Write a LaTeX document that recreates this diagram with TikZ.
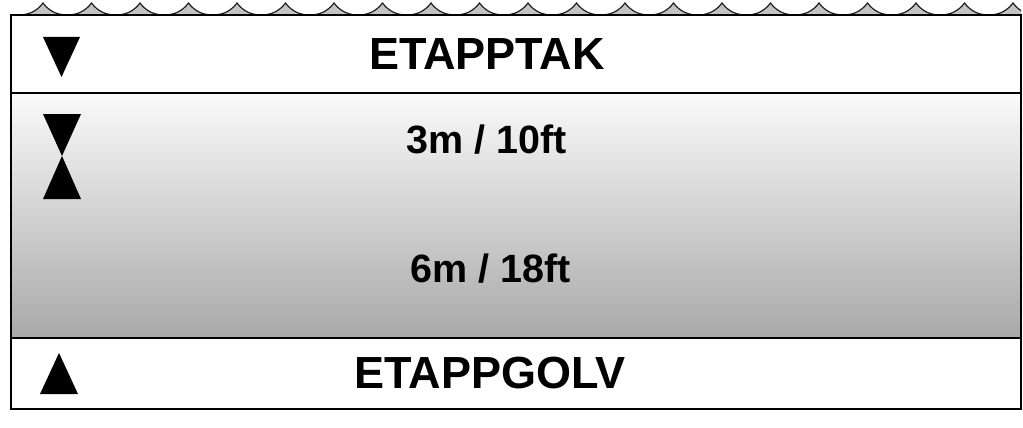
\documentclass[tikz,border=0pt]{standalone}
\usepackage{fontspec}
\setmainfont{Liberation Sans}
\usetikzlibrary{positioning}
\definecolor{wave1}{RGB}{195,195,195}
\definecolor{line1}{RGB}{30,30,30}
\tikzstyle{band} = [draw=black, line width=1.8pt, fill=white]
\tikzstyle{title} = [font=\fontsize{45}{45}\selectfont\bfseries, inner sep=0pt]
\tikzstyle{depth} = [font=\fontsize{39.5}{39.5}\selectfont\bfseries, inner sep=0pt]
\tikzstyle{mark1} = [fill=black]

\begin{document}
\begin{tikzpicture}[x=1pt, y=-1pt]
    \useasboundingbox (0,0) rectangle (1023,428);

    % Waves on top
    \begin{scope}
        \clip (11,0) rectangle (1021,16);
        \foreach \p in {0,...,21} {
            \pgfmathsetmacro{\px}{43+48.5*\p}
            \filldraw[fill=wave1, draw=line1, line width=1.2pt]
                (\px-24.25,15) .. controls (\px-14,15) and (\px-6,11) .. (\px,3)
                .. controls (\px+6,11) and (\px+14,15) .. (\px+24.25,15) -- cycle;
        }
    \end{scope}

    % Bands
    \draw[band] (11,15) rectangle (1021,93);
    \shade[top color=gray!4, bottom color=gray!68] (11,93) rectangle (1021,338);
    \draw[black, line width=1.8pt] (11,93) rectangle (1021,338);
    \draw[band] (11,338) rectangle (1021,409);

    % Triangles
    \fill[mark1] (43,37) -- (80,37) -- (61.5,77) -- cycle;
    \fill[mark1] (43,114) -- (81,114) -- (62,156) -- cycle;
    \fill[mark1] (62,156) -- (81,199) -- (43,199) -- cycle;
    \fill[mark1] (40,394) -- (78,394) -- (59,353) -- cycle;

    % Labels
    \node (top) [title] at (487,54) {ETAPPTAK};
    \node (d1) [depth] at (487,140) {3m / 10ft};
    \node (d2) [depth] at (491,269) {6m / 18ft};
    \node (bottom) [title] at (490,373) {ETAPPGOLV};
\end{tikzpicture}
\end{document}
